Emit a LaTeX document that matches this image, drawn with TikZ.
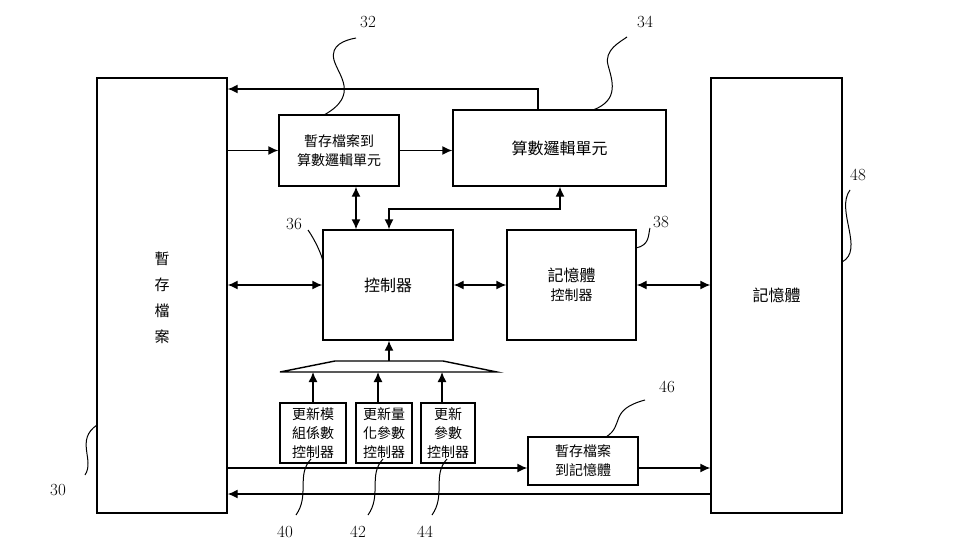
\documentclass[tikz,border=0pt]{standalone}
\usepackage{fontspec}
\newfontfamily\cjk{Noto Sans CJK TC}
\usetikzlibrary{arrows.meta}
\tikzset{blk/.style={draw, line width=1.4pt, inner sep=0pt, font=\cjk\fontsize{14}{19}\selectfont, align=center},
ar/.style={line width=1.4pt, -{Latex[length=10pt,width=9pt]}},
dar/.style={line width=1.4pt, {Latex[length=10pt,width=9pt]}-{Latex[length=10pt,width=9pt]}},
lead/.style={line width=1pt},
num/.style={font=\fontsize{17}{17}\selectfont}}
\begin{document}
\begin{tikzpicture}[x=1pt,y=-1pt]
\useasboundingbox (0,0) rectangle (968,546);
\node [blk, minimum width=130, minimum height=435] (rf) at (162,295.5) {};
\node [font=\cjk\fontsize{15}{26}\selectfont, align=center] (rft) at (162,298) {暫\\存\\檔\\案};
\node [blk, minimum width=131, minimum height=435] (mem) at (776.5,295.5) {\fontsize{16}{20}\selectfont 記憶體};
\node [blk, minimum width=120, minimum height=71] (ra) at (339,150.5) {暫存檔案到\\算數邏輯單元};
\node [blk, minimum width=213, minimum height=76] (alu) at (559.5,148) {\fontsize{16}{20}\selectfont 算數邏輯單元};
\node [blk, minimum width=130, minimum height=110] (ctl) at (388,285) {\fontsize{16}{20}\selectfont 控制器};
\node [blk, minimum width=129, minimum height=110] (mc) at (571.5,285) {\fontsize{16}{24}\selectfont 記憶體\\控制器};
\node [blk, minimum width=110, minimum height=48] (rm) at (583,461) {暫存檔案\\到記憶體};
\node [blk, minimum width=66, minimum height=60] (u1) at (313,433) {更新模\\組係數\\控制器};
\node [blk, minimum width=56, minimum height=60] (u2) at (384,433) {更新量\\化參數\\控制器};
\node [blk, minimum width=54, minimum height=60] (u3) at (448,433) {更新\\參數\\控制器};

% trapezoid
\draw [line width=1.4pt] (280,372) -- (335,361) -- (443,361) -- (497,372) -- cycle;
\coordinate (tb1) at (313,372);
\coordinate (tb2) at (378,372);
\coordinate (tb3) at (442,372);
\draw [ar] (u1.north -| tb1) -- (tb1);
\draw [ar] (u2.north -| tb2) -- (tb2);
\draw [ar] (u3.north -| tb3) -- (tb3);
\draw [ar] (389,361) -- (ctl.south -| 389,0);

% connections
\draw [ar] (rf.east |- ra.west) -- (ra.west);
\draw [ar] (ra.east) -- (alu.west |- ra.east);
\draw [ar] (alu.north -| 538,0) -- (538,89) -- (rf.east |- 0,89);
\draw [dar] (ra.south -| 356,0) -- (ctl.north -| 356,0);
\draw [dar] (ctl.north -| 389,0) -- (389,209) -- (560,209) -- (alu.south -| 560,0);
\draw [dar] (rf.east |- ctl.west) -- (ctl.west);
\draw [dar] (ctl.east) -- (mc.west);
\draw [dar] (mc.east) -- (mem.west |- mc.east);
\draw [ar] (rf.east |- 0,468) -- (rm.west |- 0,468);
\draw [ar] (rm.east |- 0,468) -- (mem.west |- 0,468);
\draw [ar] (mem.west |- 0,494) -- (rf.east |- 0,494);

% labels
\node [num] (n32) at (368,22) {32};
\node [num] (n34) at (645,22) {34};
\node [num] (n36) at (294,224) {36};
\node [num] (n38) at (661,222) {38};
\node [num] (n48) at (858,175) {48};
\node [num] (n30) at (58,490) {30};
\node [num] (n40) at (285,532) {40};
\node [num] (n42) at (358,532) {42};
\node [num] (n44) at (425,532) {44};
\node [num] (n46) at (667,387) {46};

\draw [lead] (324,115) .. controls (360,95) and (338,75) .. (334,60) .. controls (330,45) and (345,40) .. (356,38);
\draw [lead] (593,110) .. controls (620,100) and (612,80) .. (608,65) .. controls (604,50) and (620,42) .. (627,37);
\draw [lead] (308,230) .. controls (315,240) and (322,255) .. (323,262);
\draw [lead] (636,248) .. controls (650,245) and (648,235) .. (650,228);
\draw [lead] (842,262) .. controls (865,250) and (835,210) .. (850,190);
\draw [lead] (97,425) .. controls (75,440) and (95,460) .. (85,475);
\draw [lead] (311,459) .. controls (296,475) and (310,495) .. (296,515);
\draw [lead] (383,459) .. controls (368,475) and (382,495) .. (368,515);
\draw [lead] (447,459) .. controls (432,475) and (446,495) .. (432,515);
\draw [lead] (606,437) .. controls (625,425) and (608,410) .. (645,400);
\end{tikzpicture}
\end{document}
